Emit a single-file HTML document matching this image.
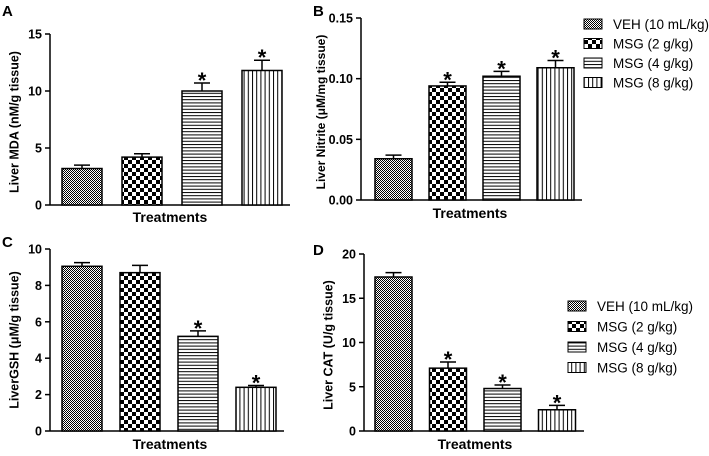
<!DOCTYPE html>
<html><head><meta charset="utf-8"><style>
body{margin:0;background:#fff}
svg{display:block;font-family:"Liberation Sans",Arial,sans-serif}
</style></head><body>
<svg id="fig" width="709" height="456" viewBox="0 0 709 456">
<defs>
<pattern id="p0" width="2" height="2" patternUnits="userSpaceOnUse"><rect width="2" height="2" fill="#fff"/><rect width="1" height="1" fill="#000"/><rect x="1" y="1" width="1" height="1" fill="#000"/></pattern>
<pattern id="p1" width="8" height="8" patternUnits="userSpaceOnUse"><rect width="8" height="8" fill="#fff"/><rect width="4" height="4" fill="#000"/><rect x="4" y="4" width="4" height="4" fill="#000"/></pattern>
<pattern id="p2" width="4" height="3.2" patternUnits="userSpaceOnUse"><rect width="4" height="3.2" fill="#fff"/><rect width="4" height="1" fill="#000"/></pattern>
<pattern id="p3" width="4.2" height="4" patternUnits="userSpaceOnUse"><rect width="4.2" height="4" fill="#fff"/><rect width="1" height="4" fill="#000"/></pattern>
</defs>
</svg>
<script>
const groups = ["VEH (10 mL/kg)","MSG (2 g/kg)","MSG (4 g/kg)","MSG (8 g/kg)"];
const valsA = [3.2, 4.2, 10.0, 11.8];
const errA = [0.3, 0.3, 0.7, 0.9];
const sigA = [false, false, true, true];
const ticksA = [0, 5, 10, 15];
const valsB = [0.034, 0.094, 0.102, 0.109];
const errB = [0.003, 0.003, 0.004, 0.006];
const sigB = [false, true, true, true];
const ticksB = ["0.00", "0.05", "0.10", "0.15"];
const valsC = [9.05, 8.7, 5.2, 2.4];
const errC = [0.2, 0.4, 0.3, 0.1];
const sigC = [false, false, true, true];
const ticksC = [0, 2, 4, 6, 8, 10];
const valsD = [17.4, 7.1, 4.8, 2.4];
const errD = [0.5, 0.7, 0.4, 0.5];
const sigD = [false, true, true, true];
const ticksD = [0, 5, 10, 15, 20];

const svg = document.getElementById('fig');
const NS = 'http://www.w3.org/2000/svg';
function mk(tag, attrs, parent){const e=document.createElementNS(NS,tag);for(const k in attrs)e.setAttribute(k,attrs[k]);(parent||svg).appendChild(e);return e;}

const panels = [
 {id:'a',letter:'A',lx:2,ly:16,ax:50,y0:205,yTop:34,max:15,axEnd:290,bx:62,step:60,bw:40,vals:valsA,err:errA,sig:sigA,ticks:ticksA,ylab:'Liver MDA (nM/g tissue)',ylx:14,yly:122,yfs:12.5,tx:170,ty:222},
 {id:'b',letter:'B',lx:313,ly:16,ax:361,y0:200,yTop:18,max:0.15,axEnd:582,bx:375,step:54,bw:37,vals:valsB,err:errB,sig:sigB,ticks:ticksB,ylab:'Liver Nitrite (\u03BCM/mg tissue)',ylx:321,yly:112,yfs:12,tx:470,ty:218},
 {id:'c',letter:'C',lx:2,ly:247,ax:50,y0:431,yTop:249,max:10,axEnd:284,bx:62,step:58,bw:40,vals:valsC,err:errC,sig:sigC,ticks:ticksC,ylab:'LiverGSH (\u03BCM/g tissue)',ylx:14,yly:340,yfs:12.5,tx:170,ty:449},
 {id:'d',letter:'D',lx:313,ly:255,ax:364,y0:431,yTop:254,max:20,axEnd:584,bx:375,step:54.5,bw:37,vals:valsD,err:errD,sig:sigD,ticks:ticksD,ylab:'Liver CAT (U/g tissue)',ylx:328,yly:345,yfs:12.5,tx:475,ty:449}
];

panels.forEach(p=>{
 const g = mk('g',{});
 
 
 const y = v => p.y0 - (v/p.max)*(p.y0-p.yTop);
 const lt = mk('text',{x:p.lx,y:p.ly,'font-size':15,'font-weight':'bold'},g); lt.textContent=p.letter;
 
 
 const ya = mk('line',{x1:p.ax,y1:p.yTop,x2:p.ax,y2:p.y0,stroke:'#000','stroke-width':1.5},g);
 
 
 const xa = mk('line',{x1:p.ax,y1:p.y0,x2:p.axEnd,y2:p.y0,stroke:'#000','stroke-width':1.5},g);
 
 
 p.ticks.forEach(t=>{
  const v = parseFloat(t); const yy = y(v);
  mk('line',{x1:p.ax-5,y1:yy,x2:p.ax,y2:yy,stroke:'#000','stroke-width':1.5},g);
  const tl = mk('text',{x:p.ax-8,y:yy+4.5,'font-size':12.5,'font-weight':'bold','text-anchor':'end'},g);
  tl.textContent=t;
  
  
 });
 const yl = mk('text',{x:p.ylx,y:p.yly,'font-size':p.yfs,'font-weight':'bold','text-anchor':'middle',transform:`rotate(-90 ${p.ylx} ${p.yly})`,dy:'0.35em'},g);
 yl.textContent=p.ylab;
 
 
 const xt = mk('text',{x:p.tx,y:p.ty,'font-size':14,'font-weight':'bold','text-anchor':'middle'},g);
 xt.textContent='Treatments';
 
 
 p.vals.forEach((v,i)=>{
  const x = p.bx + i*p.step; const yt = y(v); const ye = y(v+p.err[i]); const cx = x+p.bw/2;
  const eb = mk('path',{d:`M${cx} ${yt}V${ye}M${cx-8} ${ye}H${cx+8}`,stroke:'#000','stroke-width':1.5,fill:'none'},g);
  
  
  const r = mk('rect',{x:x,y:yt,width:p.bw,height:p.y0-yt,fill:`url(#p${i})`,stroke:'#000','stroke-width':1.5},g);
  
  
  if(p.sig[i]){
   const s = mk('text',{x:cx,y:ye+5,'font-size':22,'font-weight':'bold','text-anchor':'middle'},g);
   s.textContent='*';
   
   
  }
 });
});

function legend(lx, ly, gap, id){
 const g = mk('g',{});
 
 
 groups.forEach((name,i)=>{
  const yy = ly + i*gap;
  const r = mk('rect',{x:lx,y:yy-5,width:18,height:10,fill:`url(#p${i})`,stroke:'#000','stroke-width':1},g);
  
  
  const t = mk('text',{x:lx+29,y:yy+5,'font-size':13.5},g);
  t.textContent=name;
  
  
 });
}
legend(584, 24, 19.5, 'top');
legend(568, 306, 20.5, 'bottom');
</script>
</body></html>
